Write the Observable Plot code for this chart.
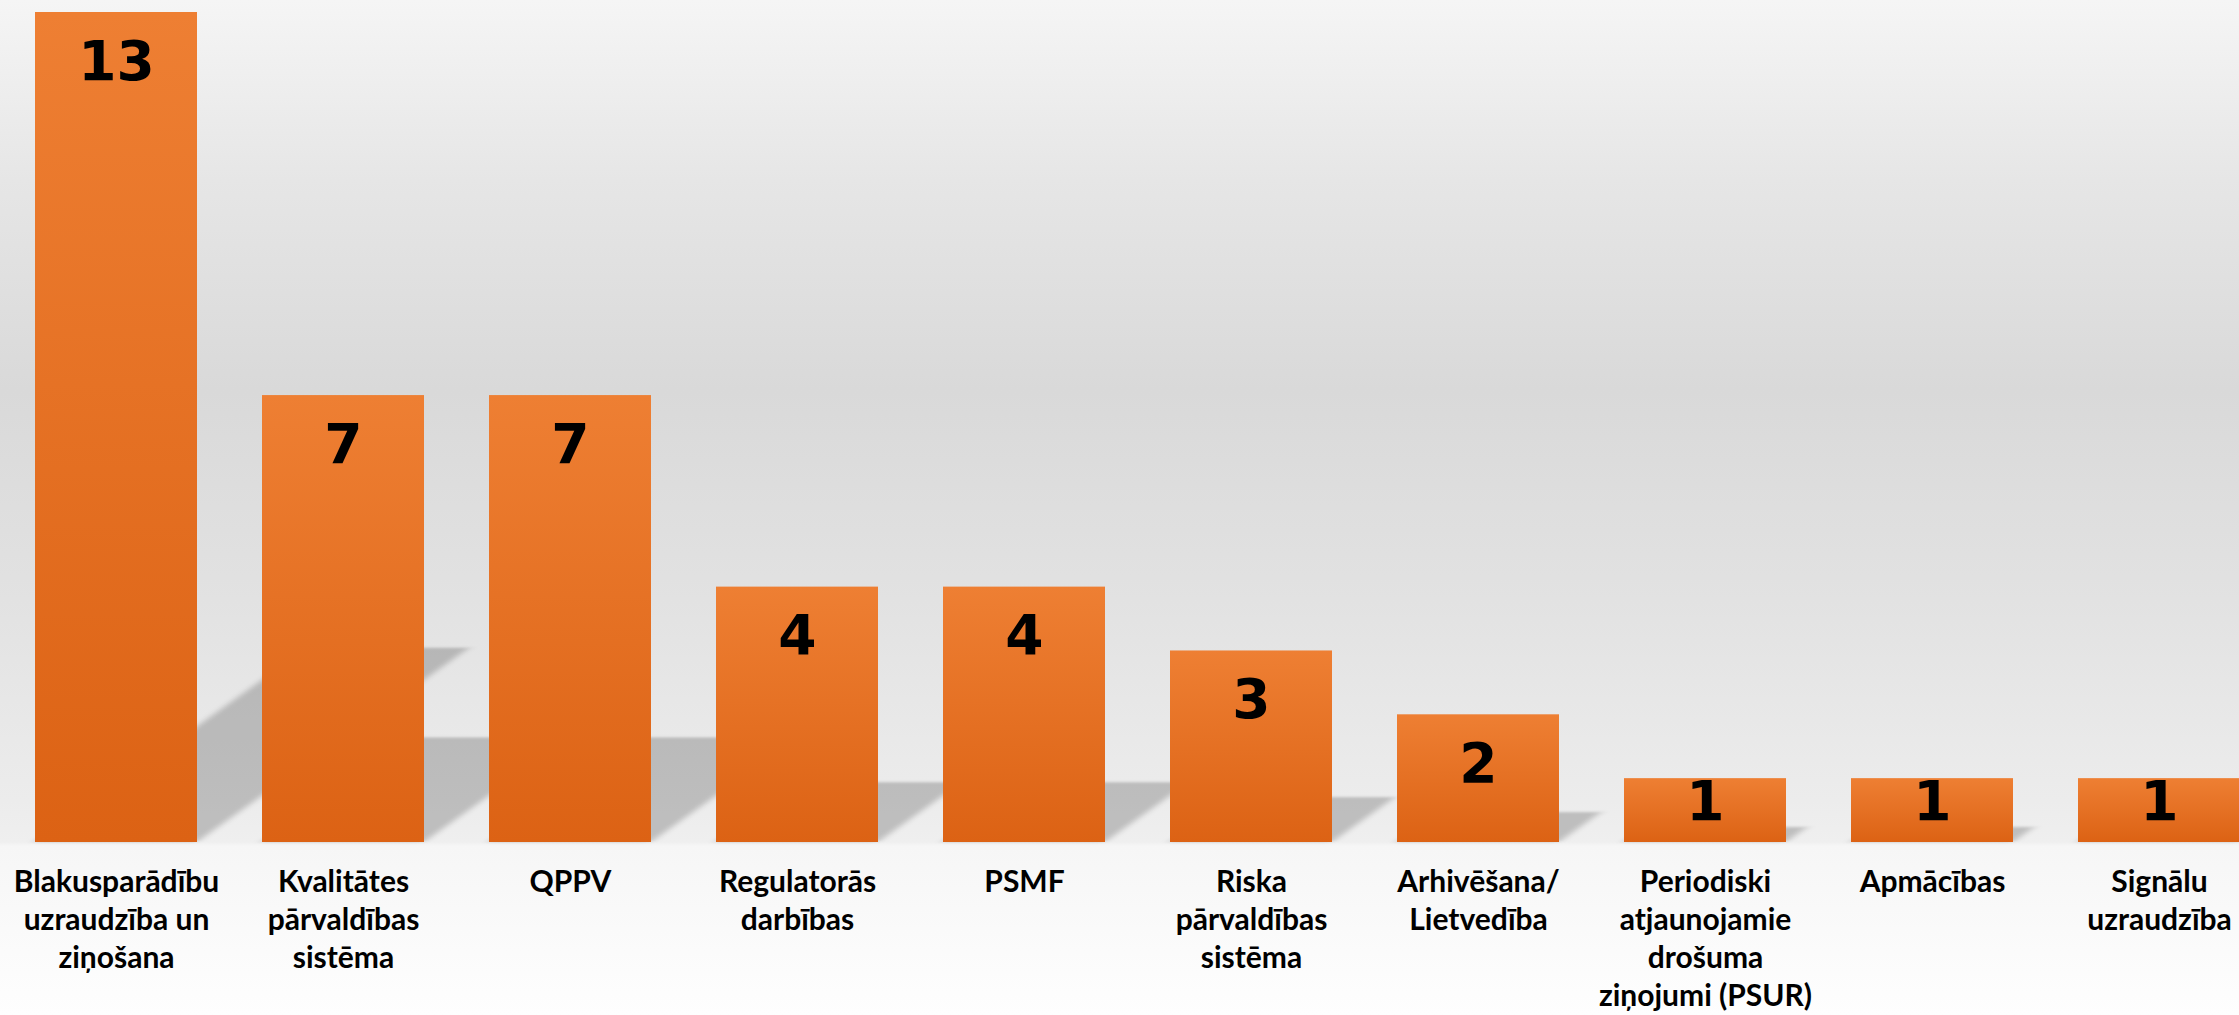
<!DOCTYPE html>
<html>
<head>
<meta charset="utf-8">
<script src="https://cdn.jsdelivr.net/npm/d3@7"></script>
<script src="https://cdn.jsdelivr.net/npm/@observablehq/plot@0.6"></script>
<style>
  html, body { margin: 0; padding: 0; overflow: hidden; }
  body {
    width: 2239px; height: 1015px;
    background: linear-gradient(to bottom, #f5f5f5 0px, #e6e6e6 180px, #d9d9d9 390px, #e2e2e2 600px, #ececec 800px, #efefef 842px, #f6f6f6 846px, #fafafa 930px, #fefefe 1015px);
  }
  #chart { width: 2239px; height: 1015px; overflow: hidden; }
  #chart svg { display: block; max-width: none !important; width: 2275px !important; height: 1015px !important; }
</style>
</head>
<body>
<div id="chart"></div>
<script>
const categories = [
  "Blakusparādību uzraudzība un ziņošana",
  "Kvalitātes pārvaldības sistēma",
  "QPPV",
  "Regulatorās darbības",
  "PSMF",
  "Riska pārvaldības sistēma",
  "Arhivēšana/Lietvedība",
  "Periodiski atjaunojamie drošuma ziņojumi (PSUR)",
  "Apmācības",
  "Signālu uzraudzība"
];
const values = [13, 7, 7, 4, 4, 3, 2, 1, 1, 1];
const tickLabels = [
  "Blakusparādību\nuzraudzība un\nziņošana",
  "Kvalitātes\npārvaldības\nsistēma",
  "QPPV",
  "Regulatorās\ndarbības",
  "PSMF",
  "Riska\npārvaldības\nsistēma",
  "Arhivēšana/\nLietvedība",
  "Periodiski\natjaunojamie\ndrošuma\nziņojumi (PSUR)",
  "Apmācības",
  "Signālu\nuzraudzība"
];

const data = categories.map((c, i) => ({category: c, value: values[i]}));

const chart = Plot.plot({
  width: 2275,
  height: 1015,
  marginLeft: 1,
  marginRight: 2,
  marginTop: 12,
  marginBottom: 173,
  style: {background: "transparent", color: "black", overflow: "visible", maxWidth: "none"},
  x: {domain: categories, paddingInner: 0.287, paddingOuter: 0.1435, axis: null, label: null},
  y: {domain: [0, 13], axis: null, label: null},
  marks: [
    Plot.barY(data, {x: "category", y: "value", fill: "black", fillOpacity: 0.2}),
    Plot.barY(data, {x: "category", y: "value", fill: "url(#barGrad)"}),
    Plot.text(data, {
      filter: d => d.value >= 2,
      x: "category", y: "value", text: d => String(d.value),
      lineAnchor: "bottom", dy: 67,
      fontFamily: "DejaVu Sans", fontWeight: "bold", fontSize: 55, fill: "black"
    }),
    Plot.text(data, {
      filter: d => d.value < 2,
      x: "category", y: "value", text: d => String(d.value),
      lineAnchor: "bottom", dy: 41,
      fontFamily: "DejaVu Sans", fontWeight: "bold", fontSize: 55, fill: "black"
    }),
    Plot.axisX({
      tickSize: 0,
      tickPadding: 22,
      tickFormat: d => tickLabels[categories.indexOf(d)],
      fontSize: 30,
      fontFamily: "Lato",
      fontWeight: "bold",
      lineHeight: 1.27,
      lineAnchor: "top",
      fill: "black",
      label: null
    })
  ]
});

document.getElementById("chart").appendChild(chart);

// gradient definition for bars
const svg = d3.select(chart);
const defs = svg.insert("defs", ":first-child");
const grad = defs.append("linearGradient")
  .attr("id", "barGrad").attr("x1", 0).attr("y1", 0).attr("x2", 0).attr("y2", 1);
grad.append("stop").attr("offset", "0%").attr("stop-color", "#ee7f33");
grad.append("stop").attr("offset", "100%").attr("stop-color", "#dc6214");

// perspective shadow: squash vertically toward the baseline and shear to the right
const B = chart.scale("y").apply(0);
const k = 0.234, s = 1.4;
const barGroups = svg.selectAll('g[aria-label="bar"]').nodes();
if (barGroups.length) {
  const shadow = d3.select(barGroups[0]);
  const existing = shadow.attr("transform") || "";
  shadow
    .attr("transform", `matrix(1,0,${-s * k},${k},${s * k * B},${(1 - k) * B}) ${existing}`)
    .style("filter", "blur(5px)");
}
</script>
</body>
</html>
